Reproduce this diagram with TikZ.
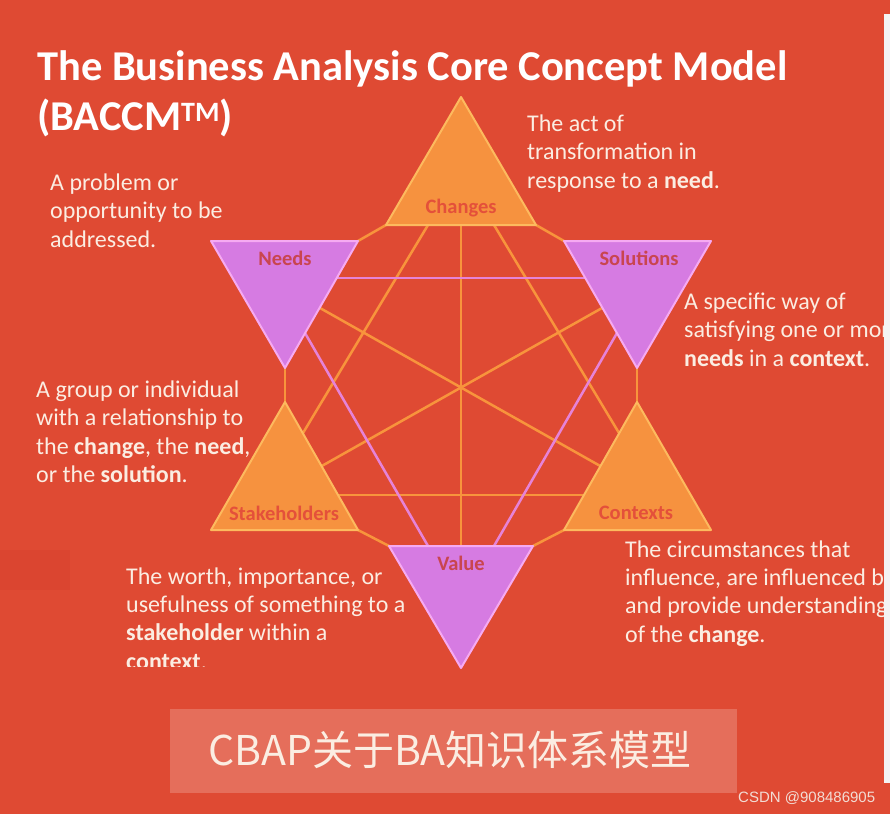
\documentclass[tikz,border=0pt]{standalone}
\usepackage{fontspec}
\setmainfont{Carlito}
\newfontfamily\cjkfont{Noto Sans CJK SC}
\newfontfamily\wmfont{Liberation Sans}
\definecolor{bgred}{HTML}{DF4A33}
\definecolor{smudge}{HTML}{D8422F}
\definecolor{triorange}{HTML}{F6923F}
\definecolor{triorangeedge}{HTML}{FDBA5E}
\definecolor{trivio}{HTML}{D67BE2}
\definecolor{trivioedge}{HTML}{F6AAF2}
\definecolor{lineorange}{HTML}{F8943C}
\definecolor{linepink}{HTML}{E683D8}
\definecolor{lblorange}{HTML}{E4503A}
\definecolor{lblvio}{HTML}{C9454F}
\definecolor{desctext}{HTML}{FBEDE2}
\definecolor{stripwhite}{HTML}{F4F4F4}
\definecolor{wmtext}{HTML}{F2DCD4}
\begin{document}
\begin{tikzpicture}[x=1pt,y=-1pt,
  orangetri/.style={fill=triorange,draw=triorangeedge,line width=2pt,line join=round},
  violettri/.style={fill=trivio,draw=trivioedge,line width=2pt,line join=round},
  oline/.style={draw=lineorange,line width=2.5pt},
  pline/.style={draw=linepink,line width=2.5pt},
  desc/.style={anchor=base west,inner sep=0pt,text=desctext},
  lbl/.style={inner sep=0pt,font=\bfseries\fontsize{20.5}{20.5}\selectfont},
  lblo/.style={lbl,text=lblorange},
  lblv/.style={lbl,text=lblvio}]
\useasboundingbox (0,0) rectangle (890,814);
\fill[bgred] (0,0) rectangle (890,814);
\fill[smudge,opacity=0.5] (0,550) rectangle (70,590);
% triangle corners
\coordinate (C1) at (461,97);  \coordinate (C2) at (386,225); \coordinate (C3) at (536,225);
\coordinate (N1) at (211,241); \coordinate (N2) at (358,241); \coordinate (N3) at (285,368);
\coordinate (S1) at (564,241); \coordinate (S2) at (711,241); \coordinate (S3) at (637,368);
\coordinate (K1) at (285,402); \coordinate (K2) at (211,530); \coordinate (K3) at (358,530);
\coordinate (X1) at (637,402); \coordinate (X2) at (564,530); \coordinate (X3) at (711,530);
\coordinate (V1) at (389,546); \coordinate (V2) at (533,546); \coordinate (V3) at (461,668);
% connector end points on the triangle edges
\coordinate (Cm) at (461,225); \coordinate (Vm) at (461,546);
\coordinate (Cl) at (428,225); \coordinate (Cr) at (494,225);
\coordinate (Kc) at (303,433); \coordinate (Xc) at (619,433);
\coordinate (Nx) at (320,308); \coordinate (Xn) at (602,467);
\coordinate (Sk) at (602,308); \coordinate (Ks) at (320,467);
\coordinate (Ns) at (337,278); \coordinate (Sn) at (585,278);
\coordinate (Kx) at (338,495); \coordinate (Xk) at (584,495);
\coordinate (Nv) at (305,333); \coordinate (Vn) at (428,546);
\coordinate (Sv) at (617,333); \coordinate (Vs) at (494,546);
% outer hexagon connectors
\draw[oline] (C2) -- (N2);
\draw[oline] (C3) -- (S1);
\draw[oline] (N3) -- (K1);
\draw[oline] (S3) -- (X1);
\draw[oline] (K3) -- (V1);
\draw[oline] (X2) -- (V2);
% inner connectors
\draw[oline] (Cm) -- (Vm);
\draw[oline] (Cl) -- (Kc);
\draw[oline] (Cr) -- (Xc);
\draw[oline] (Nx) -- (Xn);
\draw[oline] (Sk) -- (Ks);
\draw[oline] (Kx) -- (Xk);
\draw[pline] (Ns) -- (Sn);
\draw[pline] (Nv) -- (Vn);
\draw[pline] (Sv) -- (Vs);
% triangles
\draw[orangetri] (C1) -- (C2) -- (C3) -- cycle;
\draw[violettri] (N1) -- (N2) -- (N3) -- cycle;
\draw[violettri] (S1) -- (S2) -- (S3) -- cycle;
\draw[orangetri] (K1) -- (K2) -- (K3) -- cycle;
\draw[orangetri] (X1) -- (X2) -- (X3) -- cycle;
\draw[violettri] (V1) -- (V2) -- (V3) -- cycle;
% labels
\node[lblo] (lchanges) at (461,208) {Changes};
\node[lblv] (lneeds) at (285,258) {Needs};
\node[lblv] (lsolutions) at (639,258) {Solutions};
\node[lblo] (lstake) at (284,513) {Stakeholders};
\node[lblo] (lcontexts) at (636,513) {Contexts};
\node[lblv] (lvalue) at (461,563) {Value};
% title
\node[anchor=base west,inner sep=0pt,text=white,font=\bfseries\fontsize{42.5}{50}\selectfont] (title1) at (37,80) {The Business Analysis Core Concept Model};
\node[anchor=base west,inner sep=0pt,text=white,font=\bfseries\fontsize{42.5}{50}\selectfont] (title2) at (37,130) {(BACCM\raisebox{9pt}{\fontsize{28}{28}\selectfont TM})};
% descriptions
\node[desc] (dneeds) at (50,190) {\parbox[t]{300pt}{\raggedright\fontsize{24}{28.6}\selectfont A problem or\\opportunity to be\\addressed.}};
\node[desc] (dchanges) at (527,131) {\parbox[t]{300pt}{\raggedright\fontsize{24}{28.6}\selectfont The act of\\transformation in\\response to a \textbf{need}.}};
\node[desc] (dsolutions) at (684,309) {\parbox[t]{300pt}{\raggedright\fontsize{24}{28.6}\selectfont A specific way of\\satisfying one or more\\\textbf{needs} in a \textbf{context}.}};
\node[desc] (dstake) at (36,397) {\parbox[t]{300pt}{\raggedright\fontsize{24}{28.6}\selectfont A group or individual\\with a relationship to\\the \textbf{change}, the \textbf{need},\\or the \textbf{solution}.}};
\begin{scope}
\clip (0,0) rectangle (890,666);
\node[desc] (dvalue) at (126,584.5) {\parbox[t]{300pt}{\raggedright\fontsize{24}{28.2}\selectfont The worth, importance, or\\usefulness of something to a\\\textbf{stakeholder} within a\\\textbf{context}.}};
\end{scope}
\node[desc] (dcontexts) at (625,557) {\parbox[t]{320pt}{\raggedright\fontsize{24}{28.4}\selectfont The circumstances that\\influence, are influenced by,\\and provide understanding\\of the \textbf{change}.}};
% right white strip
\fill[stripwhite] (884,14) rectangle (890,783);
% caption
\fill[white,opacity=0.2] (170,709) rectangle (737,793);
\node[anchor=base,inner sep=0pt,text=desctext,font=\cjkfont\fontsize{41}{41}\selectfont] (caption) at (450,765) {CBAP关于BA知识体系模型};
% watermark
\node[anchor=base west,inner sep=0pt,text=wmtext,font=\wmfont\fontsize{15}{15}\selectfont] (wm) at (738,802) {CSDN @908486905};
\end{tikzpicture}
\end{document}
